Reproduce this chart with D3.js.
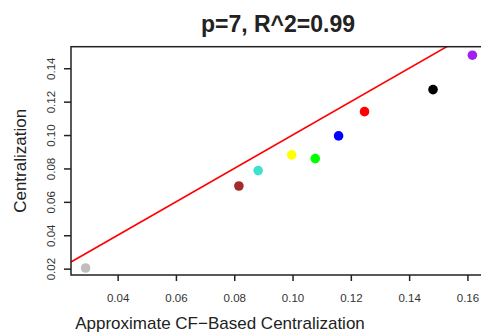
<!DOCTYPE html>
<html><head><meta charset="utf-8">
<script src="https://cdn.jsdelivr.net/npm/d3@7"></script>
<style>body{margin:0;background:#fff}svg{display:block}</style>
</head><body><svg id="c" width="481" height="335"></svg>
<script>
const xValues = [0.029, 0.0816, 0.0882, 0.0997, 0.1078, 0.1158, 0.1247, 0.1482, 0.1617];
const yValues = [0.0204, 0.0695, 0.0787, 0.0881, 0.0859, 0.0995, 0.1140, 0.1272, 0.1478];
const pointColors = ["#bebebe", "#a52a2a", "#40e0d0", "#ffff00", "#00ff00", "#0000ff", "#ff0000", "#000000", "#a020f0"];
const xTicks = [0.04, 0.06, 0.08, 0.10, 0.12, 0.14, 0.16];
const yTicks = [0.02, 0.04, 0.06, 0.08, 0.10, 0.12, 0.14];
const title = "p=7, R^2=0.99";
const xLabel = "Approximate CF\u2212Based Centralization";
const yLabel = "Centralization";

const L = 71, R = 489, T = 46.7, B = 275;
const svg = d3.select("#c");
const x = d3.scaleLinear().domain([0.024, 0.1674]).range([L, R]);
const y = d3.scaleLinear().domain([0.0162, 0.1529]).range([B, T]);
const font = "Liberation Sans, Arial, Helvetica, sans-serif";

svg.append("defs").append("clipPath").attr("id", "clip")
  .append("rect").attr("x", L).attr("y", T).attr("width", R - L).attr("height", B - T);

// identity line
const lineDom = [0.024, 0.1674];
svg.append("path")
  .attr("clip-path", "url(#clip)")
  .attr("d", d3.line().x(d => x(d)).y(d => y(d))(lineDom))
  .attr("stroke", "#ff0000").attr("stroke-width", 1.6).attr("fill", "none");

// points
svg.append("g").selectAll("circle").data(xValues).join("circle")
  .attr("cx", d => x(d)).attr("cy", (d, i) => y(yValues[i]))
  .attr("r", 4.8).attr("fill", (d, i) => pointColors[i]);

// box
svg.append("rect").attr("x", L).attr("y", T).attr("width", R - L).attr("height", B - T)
  .attr("fill", "none").attr("stroke", "#222").attr("stroke-width", 1.5);

// x axis
const xa = svg.append("g").attr("transform", `translate(0,${B})`)
  .call(d3.axisBottom(x).tickValues(xTicks).tickFormat(d3.format(".2f")).tickSize(6).tickSizeOuter(0));
xa.select(".domain").remove();
xa.selectAll("line").attr("stroke", "#222").attr("stroke-width", 1.5);
xa.selectAll("text").attr("font-family", font).attr("font-size", 11.5).attr("fill", "#333").attr("dy", null).attr("y", 27);

// y axis
const ya = svg.append("g").attr("transform", `translate(${L},0)`)
  .call(d3.axisLeft(y).tickValues(yTicks).tickFormat(d3.format(".2f")).tickSize(7).tickSizeOuter(0));
ya.select(".domain").remove();
ya.selectAll("line").attr("stroke", "#222").attr("stroke-width", 1.5);
ya.selectAll("text").attr("font-family", font).attr("font-size", 11.5).attr("fill", "#333")
  .attr("x", null).attr("dy", null).attr("text-anchor", "middle")
  .attr("transform", "translate(-16,0) rotate(-90)");

svg.append("text").attr("x", 278).attr("y", 31.5).attr("text-anchor", "middle")
  .attr("font-family", font).attr("font-weight", "bold").attr("font-size", 23).attr("fill", "#222").text(title);
svg.append("text").attr("x", 220).attr("y", 328.5).attr("text-anchor", "middle")
  .attr("font-family", font).attr("font-size", 17).attr("fill", "#222").text(xLabel);
svg.append("text").attr("transform", `translate(25.5,${(T + B) / 2}) rotate(-90)`).attr("text-anchor", "middle")
  .attr("font-family", font).attr("font-size", 17).attr("fill", "#222").text(yLabel);
</script></body></html>
